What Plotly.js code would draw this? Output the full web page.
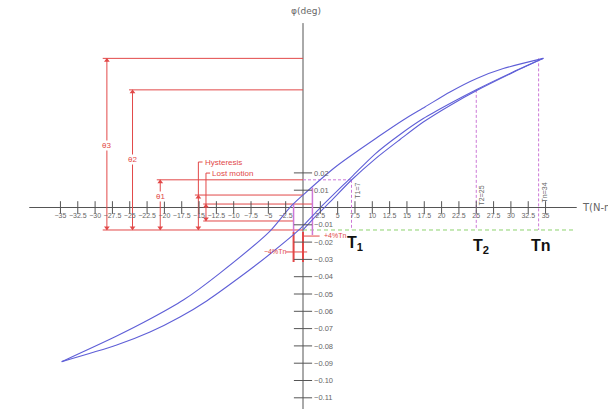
<!DOCTYPE html>
<html><head><meta charset="utf-8">
<script src="https://cdn.plot.ly/plotly-3.0.1.min.js"></script>
<style>html,body{margin:0;padding:0;background:#fff}#chart{width:608px;height:409px}</style>
</head><body><div id="chart"></div>
<script>
// ---- data ----
const xTickVals = [-35,-32.5,-30,-27.5,-25,-22.5,-20,-17.5,-15,-12.5,-10,-7.5,-5,-2.5,2.5,5,7.5,10,12.5,15,17.5,20,22.5,25,27.5,30,32.5,35];
const xTickText = ["−35","−32.5","−30","−27.5","−25","−22.5","−20","−17.5","−15","−12.5","−10","−7.5","−5","−2.5","2.5","5","7.5","10","12.5","15","17.5","20","22.5","25","27.5","30","32.5","35"];
const yTickVals = [0.02,0.01,-0.01,-0.02,-0.03,-0.04,-0.05,-0.06,-0.07,-0.08,-0.09,-0.10,-0.11];
const yTickText = ["0.02","0.01","−0.01","−0.02","−0.03","−0.04","−0.05","−0.06","−0.07","−0.08","−0.09","−0.10","−0.11"];

// unloading branch (+Tn -> -Tn), upper
const unloadT   = [34.68, 28.90, 25.07, 21.21, 17.60, 14.47, 11.11, 4.86, 0, -1.88, -4.76, -11.98, -17.27, -22.08, -26.88, -34.82];
const unloadPhi = [0.0862,0.0803,0.0746,0.0668,0.0581,0.0506,0.0416,0.0240,0.0072,0.0001,-0.0136,-0.0379,-0.0535,-0.0645,-0.0743,-0.0891];
// loading branch (-Tn -> +Tn), lower
const loadT   = [-34.82,-26.88,-22.08,-17.75,-13.90,-9.09,-4.76,-0.43,2.45,7.00,10.39,14.00,17.36,21.21,25.07,29.87,34.68];
const loadPhi = [-0.0891,-0.0795,-0.0720,-0.0633,-0.0540,-0.0402,-0.0269,-0.0124,-0.0003,0.0176,0.0309,0.0422,0.0514,0.0601,0.0682,0.0775,0.0862];
// initial loading (0 -> +Tn)
const initT   = [0, 1.88, 3.90, 7.00, 10.39, 14.00, 17.36, 21.21, 25.07, 29.87, 34.68];
const initPhi = [-0.0130,-0.0049,0.0032,0.0159,0.0280,0.0393,0.0494,0.0590,0.0676,0.0772,0.0862];

const T1 = 7, T2 = 25, Tn = 34, dT4 = 1.36;
const phiBase = -0.013, phiT1 = 0.016, phiT2 = 0.068, phiTn = 0.0862;
const phiHyst = 0.0072, phiLostTop = 0.002, phiLostBot = -0.0078;

// ---- geometry (layout only) ----
const W = 608, H = 409, X0 = 303, KX = 6.93, Y0 = 207.5, KY = 1730;
const xRange = [-X0 / KX, (W - X0) / KX];
const yRange = [(Y0 - H) / KY, Y0 / KY];

const RED = 'rgb(226,72,72)', PINK = 'rgb(205,120,215)', GREEN = 'rgb(140,210,110)';
const BLUE = 'rgb(95,95,215)', AX = '#555', LBL = '#666';
const FONT = 'Liberation Sans, Arial, sans-serif';

const curve = (x, y) => ({x, y, type:'scatter', mode:'lines', hoverinfo:'skip',
  line:{color:BLUE, width:1.1, shape:'spline', smoothing:0.8}});

// dimension lines (T position, bottom phi, top phi)
const dims = [[-28.3, phiBase, phiTn], [-24.6, phiBase, phiT2], [-20.6, phiBase, phiT1],
              [-15.1, phiBase, phiHyst], [-14.0, phiLostBot, phiLostTop]];
const ah = 0.0013;

const traces = [
  curve(unloadT, unloadPhi),
  curve(loadT, loadPhi),
  curve(initT, initPhi),
  {x:xTickVals, y:xTickVals.map(() => 0), type:'scatter', mode:'markers', hoverinfo:'skip',
   marker:{symbol:'line-ns-open', size:9, color:AX, line:{color:AX, width:1}}},
  {x:yTickVals.map(() => 0), y:yTickVals, type:'scatter', mode:'markers', hoverinfo:'skip',
   marker:{symbol:'line-ew-open', size:13, color:AX, line:{color:AX, width:1}}},
  {x:dims.map(d => d[0]), y:dims.map(d => d[2] - ah), type:'scatter', mode:'markers', hoverinfo:'skip',
   marker:{symbol:'triangle-up', size:5, color:RED}},
  {x:dims.map(d => d[0]), y:dims.map(d => d[1] + ah), type:'scatter', mode:'markers', hoverinfo:'skip',
   marker:{symbol:'triangle-down', size:5, color:RED}}
];

const L = (x0,y0,x1,y1,color,width,dash) => ({type:'line', xref:'x', yref:'y', x0,y0,x1,y1,
  line:{color, width:width||1, dash:dash||'solid'}, layer:'below'});

const shapes = [
  // axes
  L(-39.5, 0, 39.5, 0, AX, 1),
  L(0, 0.1066, 0, -0.13, AX, 1),
  // extension lines
  L(-28.9, phiTn, 0, phiTn, RED),
  L(-25.1, phiT2, 0, phiT2, RED),
  L(-21.1, phiT1, 0, phiT1, RED),
  L(-15.6, phiHyst, 0, phiHyst, RED),
  L(-14.4, phiLostTop, dT4, phiLostTop, RED),
  L(-14.4, phiLostBot, -dT4, phiLostBot, RED),
  L(-28.9, phiBase, 0, phiBase, RED),
  // leaders for labels
  L(-15.1, 0.0263, -15.1, phiHyst, RED),
  L(-15.1, 0.0263, -14.5, 0.0263, RED),
  L(-14.0, 0.0199, -14.0, phiLostTop, RED),
  L(-14.0, 0.0199, -13.4, 0.0199, RED),
  // dimension lines
  ...dims.map(d => L(d[0], d[1], d[0], d[2], RED)),
  // pink dashed markers
  L(0, phiT1, T1, phiT1, PINK, 1, '3px,2px'),
  L(T1, phiT1, T1, phiBase, PINK, 1, '3px,2px'),
  L(T2, phiT2, T2, phiBase, PINK, 1, '3px,2px'),
  L(Tn, phiTn, Tn, phiBase, PINK, 1, '3px,2px'),
  // green baseline
  L(0, phiBase, 39.3, phiBase, GREEN, 1, '4px,3px'),
  // +-4% Tn
  L(dT4, 0.0115, dT4, -0.0159, PINK, 1.5),
  L(-dT4, phiLostTop, -dT4, -0.0142, PINK, 1.5),
  L(-dT4, -0.0142, -dT4, -0.0315, RED, 2),
  L(0, -0.0142, 0, -0.0315, RED, 2),
  L(0, -0.0165, 2.4, -0.0165, RED, 1),
  L(-2.45, -0.0257, 0.6, -0.0257, RED, 1)
];

const txt = (x, y, text, o) => Object.assign({x, y, xref:'x', yref:'y', text, showarrow:false,
  font:{family:FONT, size:8, color:RED}}, o||{});

const annotations = [
  txt(-28.3, 0.0361, 'θ3', {bgcolor:'#fff', borderpad:0}),
  txt(-24.6, 0.0280, 'θ2', {bgcolor:'#fff', borderpad:0}),
  txt(-20.6, 0.0061, 'θ1', {bgcolor:'#fff', borderpad:0}),
  txt(-14.45, 0.0263, 'Hysteresis', {xanchor:'left'}),
  txt(-13.35, 0.0199, 'Lost motion', {xanchor:'left'}),
  txt(2.7, -0.0160, '+4%Tn', {xanchor:'left', font:{family:FONT, size:7, color:RED}}),
  txt(-2.2, -0.0257, '−4%Tn', {xanchor:'right', font:{family:FONT, size:7, color:RED}}),
  txt(T1 + 0.75, 0.0095, 'T1=7', {textangle:-90, font:{family:FONT, size:7, color:LBL}}),
  txt(T2 + 0.75, 0.0072, 'T2=25', {textangle:-90, font:{family:FONT, size:7, color:LBL}}),
  txt(Tn + 0.85, 0.0084, 'Tn=34', {textangle:-90, font:{family:FONT, size:7, color:LBL}}),
  txt(T1 + 0.5, -0.0210, 'T<sub>1</sub>', {font:{family:FONT, size:16, color:'#111', weight:'bold'}}),
  txt(T2 + 0.7, -0.0225, 'T<sub>2</sub>', {font:{family:FONT, size:16, color:'#111', weight:'bold'}}),
  txt(Tn + 0.3, -0.0220, 'Tn', {font:{family:FONT, size:16, color:'#111', weight:'bold'}}),
  {x:306/W, y:1-11/H, xref:'paper', yref:'paper', text:'φ(deg)', showarrow:false, yanchor:'middle',
   font:{family:'DejaVu Sans, sans-serif', size:9, color:LBL}},
  {x:580/W, y:(H-Y0)/H, xref:'paper', yref:'paper', text:'T(N-m)', showarrow:false, xanchor:'left', yanchor:'middle',
   font:{family:'DejaVu Sans, sans-serif', size:10, color:LBL}}
];

const layout = {
  width:W, height:H, margin:{l:0,r:0,t:0,b:0}, paper_bgcolor:'#fff', plot_bgcolor:'#fff', showlegend:false,
  xaxis:{range:xRange, showgrid:false, zeroline:false, showline:false, ticks:'', tickvals:xTickVals, ticktext:xTickText,
    tickangle:0, anchor:'free', position:(H-Y0)/H, side:'bottom', ticklabelstandoff:2,
    tickfont:{family:FONT, size:7, color:LBL}, fixedrange:true},
  yaxis:{range:yRange, showgrid:false, zeroline:false, showline:false, ticks:'', tickvals:yTickVals, ticktext:yTickText,
    tickangle:0, anchor:'free', position:X0/W, side:'right', ticklabelstandoff:10,
    tickfont:{family:FONT, size:7.5, color:LBL}, fixedrange:true},
  shapes, annotations
};
Plotly.newPlot('chart', traces, layout, {staticPlot:true, displayModeBar:false});
</script></body></html>
